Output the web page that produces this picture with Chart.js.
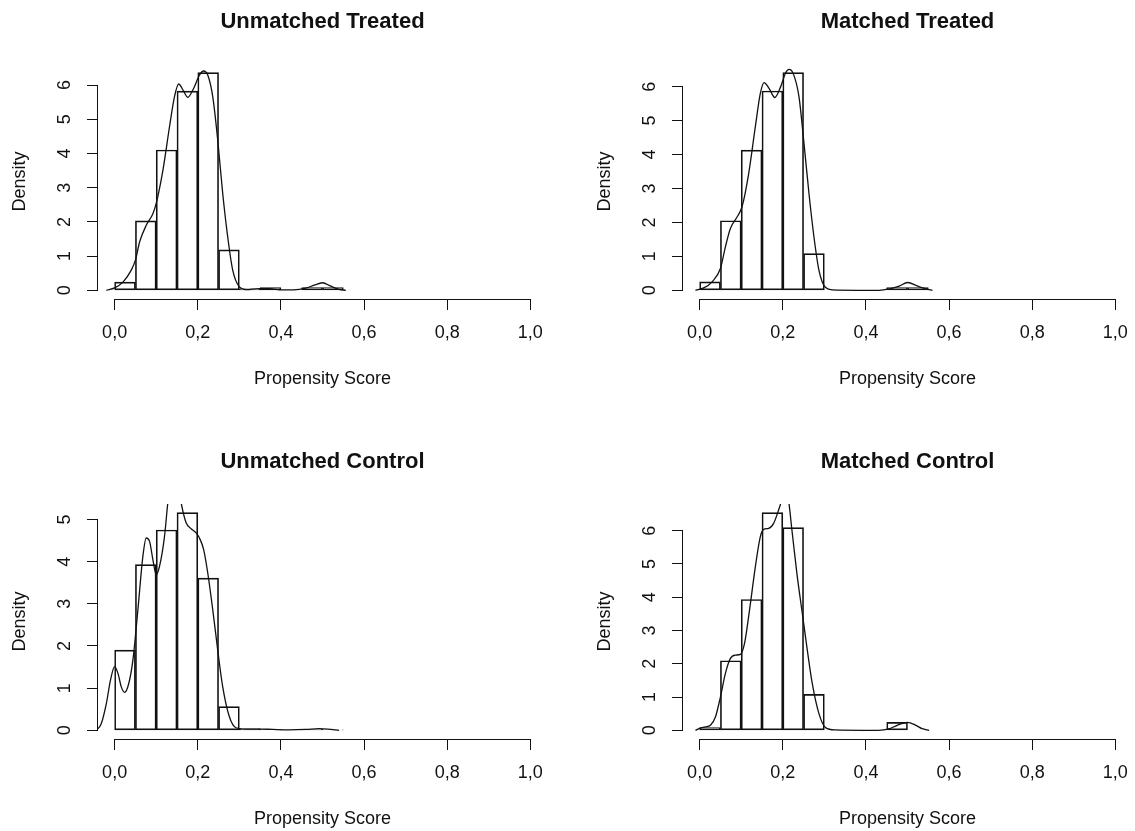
<!DOCTYPE html>
<html>
<head>
<meta charset="utf-8">
<script src="https://cdn.jsdelivr.net/npm/chart.js@4.4.1/dist/chart.umd.min.js"></script>
<style>
  html, body { margin: 0; padding: 0; background: #fff; overflow: hidden; }
  canvas { position: absolute; }
</style>
</head>
<body>
<canvas id="c1" width="567" height="440" style="left:0px;top:0px"></canvas>
<canvas id="c2" width="550" height="440" style="left:585px;top:0px"></canvas>
<canvas id="c3" width="567" height="440" style="left:0px;top:440px"></canvas>
<canvas id="c4" width="550" height="440" style="left:585px;top:440px"></canvas>
<script>

// histogram breaks and axis ticks
binEdges = [0, 0.05, 0.1, 0.15, 0.2, 0.25, 0.3, 0.35, 0.4, 0.45, 0.5, 0.55]
xTicks = [0, 0.2, 0.4, 0.6, 0.8, 1.0]
xTickLabels = ['0,0', '0,2', '0,4', '0,6', '0,8', '1,0']
yTicks6 = [0, 1, 2, 3, 4, 5, 6]
yTicks5 = [0, 1, 2, 3, 4, 5]

// Unmatched Treated
utHeights = [0.24, 2.03, 4.10, 5.82, 6.36, 1.18, 0.04, 0.08, 0, 0.08, 0.08]
utCurveX = [-0.02, 0, 0.02, 0.04, 0.05, 0.06, 0.076, 0.092, 0.1, 0.116, 0.132, 0.144, 0.154, 0.166, 0.176, 0.19, 0.204, 0.214, 0.224, 0.236, 0.248, 0.26, 0.272, 0.284, 0.3, 0.316, 0.348, 0.372, 0.404, 0.43, 0.46, 0.48, 0.5, 0.52, 0.54, 0.556]
utCurveY = [0, 0.07, 0.24, 0.59, 0.88, 1.41, 1.9, 2.24, 2.54, 3.5, 4.78, 5.66, 6.03, 5.82, 5.64, 5.9, 6.29, 6.41, 6.29, 5.66, 4.39, 2.83, 1.56, 0.59, 0.1, 0.02, 0.05, 0.05, 0.01, 0.01, 0.06, 0.15, 0.22, 0.12, 0.03, 0]

// Matched Treated
mtHeights = [0.25, 2.05, 4.13, 5.87, 6.41, 1.08, 0, 0, 0, 0.08, 0.08]
mtCurveX = [-0.01, 0.01, 0.03, 0.05, 0.062, 0.074, 0.09, 0.102, 0.118, 0.134, 0.146, 0.155, 0.167, 0.181, 0.195, 0.207, 0.215, 0.225, 0.239, 0.251, 0.263, 0.275, 0.287, 0.303, 0.32, 0.376, 0.432, 0.456, 0.48, 0.5, 0.525, 0.545, 0.56]
mtCurveY = [0, 0.07, 0.25, 0.64, 1.28, 1.82, 2.16, 2.46, 3.44, 4.82, 5.8, 6.12, 5.95, 5.68, 6.0, 6.41, 6.51, 6.39, 5.7, 4.33, 2.85, 1.57, 0.59, 0.08, 0.01, 0, 0, 0.04, 0.12, 0.23, 0.12, 0.04, 0]

// Unmatched Control
ucHeights = [1.90, 3.93, 4.75, 5.16, 3.61, 0.56, 0.04, 0.01, 0.01, 0.02, 0.01]
ucCurveX = [-0.044, -0.032, -0.02, -0.01, 0, 0.008, 0.016, 0.024, 0.034, 0.044, 0.056, 0.068, 0.076, 0.084, 0.092, 0.1, 0.108, 0.12, 0.128, 0.138, 0.148, 0.16, 0.172, 0.184, 0.196, 0.204, 0.214, 0.224, 0.236, 0.248, 0.26, 0.276, 0.292, 0.316, 0.348, 0.38, 0.42, 0.46, 0.492, 0.512, 0.54]
ucCurveY = [0, 0.16, 0.63, 1.19, 1.51, 1.35, 1.03, 0.9, 1.11, 1.67, 2.86, 4.13, 4.56, 4.48, 4.05, 3.69, 3.89, 4.6, 5.4, 6.1, 6.2, 5.4, 4.92, 4.78, 4.68, 4.56, 4.29, 3.73, 2.86, 1.9, 1.03, 0.32, 0.06, 0.03, 0.03, 0.02, 0.01, 0.02, 0.04, 0.03, 0]

// Matched Control
mcHeights = [0.08, 2.09, 3.93, 6.54, 6.09, 1.08, 0, 0, 0, 0.24, 0]
mcCurveX = [-0.01, 0, 0.014, 0.026, 0.038, 0.05, 0.062, 0.074, 0.086, 0.098, 0.108, 0.12, 0.134, 0.146, 0.154, 0.166, 0.178, 0.19, 0.197, 0.206, 0.214, 0.222, 0.234, 0.247, 0.259, 0.271, 0.287, 0.303, 0.327, 0.39, 0.43, 0.455, 0.475, 0.5, 0.52, 0.535, 0.552]
mcCurveY = [0, 0.06, 0.1, 0.15, 0.4, 1.0, 1.71, 2.16, 2.26, 2.28, 2.61, 3.61, 4.91, 5.82, 6.04, 6.07, 6.22, 6.62, 6.9, 7.3, 6.9, 6.02, 4.71, 3.51, 2.41, 1.4, 0.5, 0.08, 0.01, 0, 0, 0.04, 0.15, 0.24, 0.15, 0.05, 0]

const ink = '#111'
const family = '"Liberation Sans", Arial, Helvetica, sans-serif'

// R style axis lines: only from first to last tick
const rAxes = {
    id: 'rAxes',
    afterDraw(chart) {
        const {ctx, chartArea, scales} = chart
        const x = scales.x, y = scales.y
        ctx.save()
        ctx.strokeStyle = ink
        ctx.lineWidth = 1
        ctx.beginPath()
        const by = Math.round(chartArea.bottom) + 0.5
        ctx.moveTo(x.getPixelForValue(x.ticks[0].value), by)
        ctx.lineTo(x.getPixelForValue(x.ticks[x.ticks.length - 1].value), by)
        const lx = Math.round(chartArea.left) - 0.5
        ctx.moveTo(lx, y.getPixelForValue(y.ticks[0].value))
        ctx.lineTo(lx, y.getPixelForValue(y.ticks[y.ticks.length - 1].value))
        ctx.stroke()
        ctx.restore()
    }
}

function histPanel(id, title, heights, curveX, curveY, yTicks, padRight) {

    const ymax = Math.max(...heights)
    const bars = heights.map((h, i) => ({x: (binEdges[i] + binEdges[i + 1]) / 2, y: h}))
    const curve = curveX.map((x, i) => ({x: x, y: curveY[i]}))

    new Chart(document.getElementById(id), {
        type: 'bar',
        data: {
            datasets: [{
                type: 'line',
                data: curve,
                borderColor: ink,
                borderWidth: 1.3,
                pointRadius: 0,
                fill: false,
                cubicInterpolationMode: 'monotone',
                order: 0
            }, {
                type: 'bar',
                data: bars,
                backgroundColor: 'rgba(0,0,0,0)',
                borderColor: ink,
                borderWidth: 1,
                borderSkipped: false,
                barPercentage: 1,
                categoryPercentage: 1,
                order: 1
            }]
        },
        options: {
            responsive: false,
            animation: false,
            devicePixelRatio: 1,
            layout: {padding: {left: 0, top: 0, right: padRight, bottom: 50.2}},
            plugins: {
                legend: {display: false},
                tooltip: {enabled: false},
                title: {
                    display: true,
                    text: title,
                    fullSize: false,
                    color: ink,
                    font: {family: family, size: 22, weight: 'bold'},
                    padding: {top: 8.8, bottom: 28.8}
                }
            },
            scales: {
                x: {
                    type: 'linear',
                    offset: false,
                    min: -0.04,
                    max: 1.04,
                    afterBuildTicks: s => { s.ticks = xTicks.map(v => ({value: v})) },
                    afterFit: s => { s.height = 90.8; s.paddingLeft = 0; s.paddingRight = 0 },
                    border: {display: false},
                    grid: {offset: false, drawOnChartArea: false, drawTicks: true, tickLength: 11, color: ink, lineWidth: 1},
                    ticks: {
                        padding: 12.2, color: ink, autoSkip: false, maxRotation: 0,
                        font: {family: family, size: 18},
                        callback: (v, i) => xTickLabels[i]
                    },
                    title: {display: true, text: 'Propensity Score', color: ink, font: {family: family, size: 18}, padding: {top: 0, bottom: 0}}
                },
                y: {
                    type: 'linear',
                    min: -0.04 * ymax,
                    max: 1.04 * ymax,
                    afterBuildTicks: s => { s.ticks = yTicks.map(v => ({value: v})) },
                    afterFit: s => { s.width = 98 },
                    border: {display: false},
                    grid: {drawOnChartArea: false, drawTicks: true, tickLength: 11, color: ink, lineWidth: 1},
                    ticks: {
                        padding: 17, color: ink, autoSkip: false, crossAlign: 'center',
                        minRotation: 90, maxRotation: 90,
                        font: {family: family, size: 18},
                        callback: v => String(v)
                    },
                    title: {display: true, text: 'Density', color: ink, font: {family: family, size: 18}, padding: {top: 9.2, bottom: 0}}
                }
            }
        },
        plugins: [rAxes]
    })
}

histPanel('c1', 'Unmatched Treated', utHeights, utCurveX, utCurveY, yTicks6, 20)
histPanel('c2', 'Matched Treated', mtHeights, mtCurveX, mtCurveY, yTicks6, 3)
histPanel('c3', 'Unmatched Control', ucHeights, ucCurveX, ucCurveY, yTicks5, 20)
histPanel('c4', 'Matched Control', mcHeights, mcCurveX, mcCurveY, yTicks6, 3)

</script>
</body>
</html>
